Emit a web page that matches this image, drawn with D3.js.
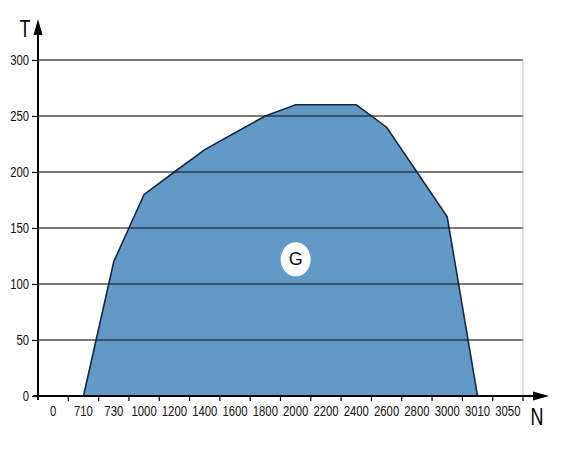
<!DOCTYPE html>
<html><head><meta charset="utf-8">
<script src="https://cdn.jsdelivr.net/npm/d3@7"></script>
<style>body{margin:0;background:#fff}svg{display:block}
.narrow{transform-box:fill-box;transform-origin:center;transform:scaleX(0.78)}
.narrowR{transform-box:fill-box;transform-origin:right center;transform:scaleX(0.78)}
</style>
</head><body>
<svg id="c" width="568" height="449"></svg>
<script>
const categories = ["0","710","730","1000","1200","1400","1600","1800","2000","2200","2400","2600","2800","3000","3010","3050"];
const areaCats = ["710","730","1000","1200","1400","1600","1800","2000","2200","2400","2600","2800","3000","3010"];
const torque = [0,120,180,200,220,235,250,260,260,260,240,200,160,0];
const yTicks = [0,50,100,150,200,250,300];
const regionLabel = "G";

const font = "'Liberation Sans',Arial,sans-serif";
const svg = d3.select("#c");
const x0 = 38, x1 = 523, yTop = 60, yBot = 396;
const x = d3.scaleBand().domain(categories).range([x0, x1]);
const y = d3.scaleLinear().domain([0, 300]).range([yBot, yTop]);
const cx = c => x(c) + x.bandwidth()/2;
const pts = areaCats.map((c,i)=>({c, v:torque[i]}));

// area
svg.append("path").datum(pts)
  .attr("d", d3.area().x(d=>cx(d.c)).y0(y(0)).y1(d=>y(d.v)))
  .attr("fill", "#6299c5");
svg.append("path").datum(pts)
  .attr("d", d3.line().x(d=>cx(d.c)).y(d=>y(d.v)))
  .attr("fill", "none").attr("stroke", "#15294a").attr("stroke-width", 1.6);

// gridlines
svg.append("g").selectAll("line").data(yTicks.filter(t=>t>0)).join("line")
  .attr("x1", x0).attr("x2", x1).attr("y1", d=>y(d)).attr("y2", d=>y(d))
  .attr("stroke", "#1a1a1a").attr("stroke-opacity", 0.75).attr("stroke-width", 1.5);
// right border
svg.append("line").attr("x1", x1).attr("x2", x1).attr("y1", y(300)).attr("y2", yBot)
  .attr("stroke", "#bbb").attr("stroke-width", 1);

// y axis
const ya = svg.append("g").attr("transform", `translate(${x0},0)`)
  .call(d3.axisLeft(y).tickValues(yTicks).tickSize(6).tickPadding(3));
ya.select(".domain").remove();
ya.selectAll("line").attr("stroke", "#000").attr("stroke-width", 1.2);
ya.selectAll("text").attr("font-family", font).attr("font-size", 14.5).attr("fill", "#111").attr("class", "narrowR");

// x axis
const xa = svg.append("g").attr("transform", `translate(0,${yBot})`)
  .call(d3.axisBottom(x).tickSize(0).tickPadding(10));
xa.select(".domain").remove();
xa.selectAll("text").attr("font-family", font).attr("font-size", 14.5).attr("fill", "#111").attr("class", "narrow");
svg.append("g").selectAll("line").data(d3.range(1, categories.length + 1)).join("line")
  .attr("x1", d => x0 + d*x.bandwidth()).attr("x2", d => x0 + d*x.bandwidth())
  .attr("y1", yBot).attr("y2", yBot+5).attr("stroke", "#000").attr("stroke-width", 1.2);

// axis lines with arrows
svg.append("line").attr("x1", x0).attr("x2", x0).attr("y1", yBot+4).attr("y2", 30)
  .attr("stroke", "#000").attr("stroke-width", 2);
svg.append("path").attr("d", `M${x0},19 L${x0-4.5},35 L${x0+4.5},35 Z`).attr("fill", "#000");
svg.append("line").attr("x1", x0-5).attr("x2", 538).attr("y1", yBot).attr("y2", yBot)
  .attr("stroke", "#000").attr("stroke-width", 2);
svg.append("path").attr("d", `M549,${yBot} L533,${yBot-4.5} L533,${yBot+4.5} Z`).attr("fill", "#000");

svg.append("text").attr("x", 25).attr("y", 37).attr("text-anchor", "middle").attr("class", "narrow")
  .attr("font-family", font).attr("font-size", 23).text("T");
svg.append("text").attr("x", 537).attr("y", 425).attr("text-anchor", "middle").attr("class", "narrow")
  .attr("font-family", font).attr("font-size", 23).text("N");

// region label
const gx = (cx("2000")), gy = y(122);
svg.append("ellipse").attr("cx", gx).attr("cy", gy).attr("rx", 15).attr("ry", 17).attr("fill", "#fff");
svg.append("text").attr("x", gx).attr("y", gy+6).attr("text-anchor", "middle")
  .attr("font-family", font).attr("font-size", 18).attr("fill", "#111").text(regionLabel);
</script>
</body></html>
